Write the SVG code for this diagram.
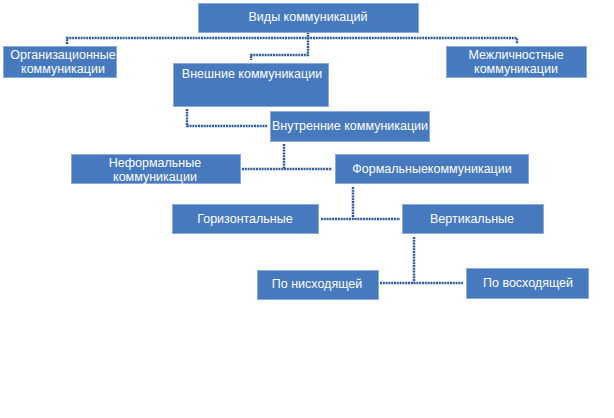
<svg xmlns="http://www.w3.org/2000/svg" width="614" height="418" viewBox="0 0 614 418">
<style>
.box{fill:#4679bd;stroke:#8aaad8;stroke-width:1}
.t{font-family:"Liberation Sans",Arial,sans-serif;font-size:12.5px;fill:#ffffff;text-anchor:middle;dominant-baseline:central}
.c{fill:none;stroke:#2f5c9e;stroke-width:2.5;stroke-dasharray:2 0.8}
</style>
<rect width="614" height="418" fill="#ffffff"/>
<g id="connectors">
<path class="c" d="M67,44 V38 H517 V44"/>
<path class="c" d="M308,32 V55 H251 V60"/>
<path class="c" d="M187,109 V126 H268"/>
<path class="c" d="M284,144 V169 M242,169 H332"/>
<path class="c" d="M353,187 V219 M321,219 H400"/>
<path class="c" d="M414,237 V283 M380,283 H463"/>
</g>
<g id="n-vidy"><rect class="box" x="198.5" y="3.5" width="220" height="29"/><text class="t" x="308" y="17">Виды коммуникаций</text></g>
<g id="n-org"><rect class="box" x="3.5" y="46.5" width="113" height="31"/><text class="t" x="63" y="55">Организационные</text><text class="t" x="63" y="69">коммуникации</text></g>
<g id="n-mezh"><rect class="box" x="446.5" y="46.5" width="140" height="31"/><text class="t" x="516" y="55">Межличностные</text><text class="t" x="516" y="69">коммуникации</text></g>
<g id="n-vnesh"><rect class="box" x="173.5" y="63.5" width="155" height="43"/><text class="t" x="252" y="74">Внешние коммуникации</text></g>
<g id="n-vnutr"><rect class="box" x="270.5" y="111.5" width="159" height="30"/><text class="t" x="350" y="126">Внутренние коммуникации</text></g>
<g id="n-neform"><rect class="box" x="71.5" y="154.5" width="169" height="29"/><text class="t" x="155" y="163">Неформальные</text><text class="t" x="155" y="177">коммуникации</text></g>
<g id="n-form"><rect class="box" x="335.5" y="154.5" width="193" height="29"/><text class="t" x="432" y="169">Формальныекоммуникации</text></g>
<g id="n-goriz"><rect class="box" x="172.5" y="204.5" width="146" height="29"/><text class="t" x="245" y="219">Горизонтальные</text></g>
<g id="n-vert"><rect class="box" x="402.5" y="204.5" width="141" height="29"/><text class="t" x="472" y="219">Вертикальные</text></g>
<g id="n-nisx"><rect class="box" x="257.5" y="270.5" width="121" height="29"/><text class="t" x="317" y="284">По нисходящей</text></g>
<g id="n-vosx"><rect class="box" x="466.5" y="268.5" width="122" height="30"/><text class="t" x="528" y="283">По восходящей</text></g>
</svg>
